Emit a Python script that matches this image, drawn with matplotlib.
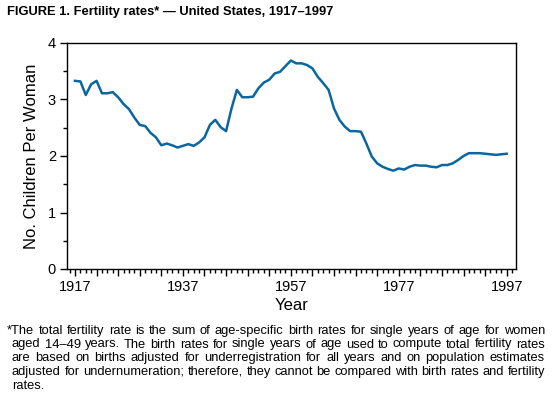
import matplotlib
matplotlib.use("Agg")
import matplotlib.pyplot as plt
from matplotlib.ticker import MultipleLocator

plt.rcParams['font.family'] = ['Liberation Sans', 'DejaVu Sans']

years = list(range(1917, 1998))
rates = [3.33, 3.32, 3.08, 3.27, 3.33, 3.11, 3.11, 3.13, 3.04, 2.92,
         2.83, 2.68, 2.55, 2.53, 2.41, 2.33, 2.19, 2.22, 2.19, 2.15,
         2.18, 2.21, 2.18, 2.24, 2.33, 2.55, 2.64, 2.51, 2.44, 2.84,
         3.17, 3.04, 3.04, 3.05, 3.20, 3.30, 3.35, 3.46, 3.49, 3.59,
         3.69, 3.64, 3.64, 3.61, 3.55, 3.40, 3.29, 3.17, 2.84, 2.64,
         2.52, 2.44, 2.44, 2.43, 2.22, 1.99, 1.87, 1.81, 1.77, 1.74,
         1.78, 1.76, 1.81, 1.84, 1.83, 1.83, 1.81, 1.80, 1.84, 1.84,
         1.87, 1.93, 2.00, 2.05, 2.05, 2.05, 2.04, 2.03, 2.02, 2.03, 2.04]
xtick_labels = [1917, 1937, 1957, 1977, 1997]
yticks = [0, 1, 2, 3, 4]

title = "FIGURE 1. Fertility rates* \u2014 United States, 1917\u20131997"
footnote_lines = [
    "*The total fertility rate is the sum of age-specific birth rates for single years of age for women",
    "aged 14\u201349 years. The birth rates for single years of age used to compute total fertility rates",
    "are based on births adjusted for underregistration for all years and on population estimates",
    "adjusted for undernumeration; therefore, they cannot be compared with birth rates and fertility",
    "rates.",
]

W, H = 556, 393
fig = plt.figure(figsize=(W / 100, H / 100), dpi=100)
ax = fig.add_axes([67 / W, 1 - 269 / H, (515.7 - 67) / W, (269 - 43) / H])

ax.plot(years, rates, color='#0a669e', lw=1.8, solid_joinstyle='round')
ax.set_xlim(1915.52, 1998.67)
ax.set_ylim(0, 4)

ax.set_xticks(list(range(1917, 1998, 4)))
ax.set_xticklabels([str(y) if y in xtick_labels else '' for y in range(1917, 1998, 4)])
ax.xaxis.set_minor_locator(MultipleLocator(1))
ax.set_yticks(yticks)
ax.yaxis.set_minor_locator(MultipleLocator(0.5))

ax.tick_params(axis='both', which='major', direction='out', length=5, width=1,
               labelsize=10.5, color='black', pad=3)
ax.tick_params(axis='both', which='minor', direction='out', length=3, width=1)
for s in ax.spines.values():
    s.set_linewidth(1.0)

ax.set_xlabel("Year", fontsize=12, labelpad=3)
ax.set_ylabel("No. Children Per Woman", fontsize=12, labelpad=6)

fig.text(7 / W, 1 - 12 / H, title, fontsize=9.3, fontweight='bold', va='center', ha='left')

# justified footnote
fs = 9.3
renderer = fig.canvas.get_renderer()
left0, left1, right = 7, 12, 545
baselines = [334, 347.5, 361, 375, 389]
for i, line in enumerate(footnote_lines):
    y = 1 - baselines[i] / H
    x0 = left0 if i == 0 else left1
    if i == len(footnote_lines) - 1:
        fig.text(x0 / W, y, line, fontsize=fs, va='baseline', ha='left')
        continue
    words = line.split(' ')
    widths = []
    for w in words:
        t = fig.text(0, 0, w, fontsize=fs)
        widths.append(t.get_window_extent(renderer=renderer).width)
        t.remove()
    gap = (right - x0 - sum(widths)) / (len(words) - 1)
    x = x0
    for w, wd in zip(words, widths):
        fig.text(x / W, y, w, fontsize=fs, va='baseline', ha='left')
        x += wd + gap

fig.savefig("out.png", dpi=100)
